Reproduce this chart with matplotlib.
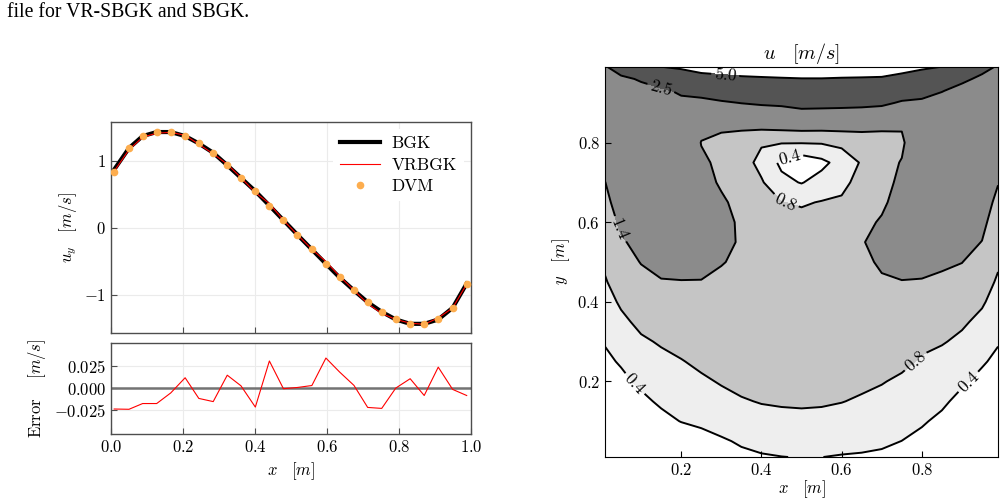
import matplotlib
matplotlib.use("Agg")
import matplotlib.pyplot as plt
import numpy as np

plt.rcParams['font.family'] = 'serif'
plt.rcParams['font.serif'] = ['cmr10']
plt.rcParams['mathtext.fontset'] = 'cm'
plt.rcParams['axes.formatter.use_mathtext'] = True
plt.rcParams['font.size'] = 12

# --- left: u_y along the line, and the error of VRBGK ---
x_line = [0.009, 0.050, 0.088, 0.127, 0.166, 0.206, 0.244, 0.284, 0.323, 0.361, 0.401, 0.440, 0.479,
          0.518, 0.558, 0.597, 0.635, 0.675, 0.713, 0.752, 0.791, 0.831, 0.870, 0.909, 0.949, 0.988]
u_bgk = [0.87, 1.19, 1.37, 1.43, 1.43, 1.37, 1.26, 1.12, 0.935, 0.746, 0.547, 0.333, 0.114,
         -0.104, -0.323, -0.537, -0.741, -0.935, -1.11, -1.254, -1.368, -1.433, -1.433, -1.368, -1.194, -0.831]
u_vrbgk = [0.846, 1.166, 1.353, 1.413, 1.425, 1.382, 1.248, 1.105, 0.950, 0.749, 0.526, 0.364, 0.113,
           -0.103, -0.320, -0.503, -0.723, -0.932, -1.132, -1.277, -1.368, -1.422, -1.441, -1.344, -1.196, -0.839]
u_dvm = [0.83, 1.19, 1.37, 1.43, 1.43, 1.37, 1.26, 1.12, 0.935, 0.746, 0.547, 0.333, 0.114,
         -0.104, -0.323, -0.537, -0.741, -0.935, -1.11, -1.254, -1.368, -1.433, -1.433, -1.368, -1.194, -0.831]
err = [-0.0237, -0.024, -0.0175, -0.0175, -0.0055, 0.0117, -0.0117, -0.0153, 0.0146, 0.0026, -0.0215, 0.0307, -0.0007,
       0.0007, 0.0029, 0.034, 0.0182, 0.003, -0.0219, -0.023, 0.0, 0.0106, -0.0084, 0.0237, -0.0015, -0.0084]

# --- right: velocity magnitude in the cavity ---
gx = [0.01, 0.05, 0.10, 0.15, 0.20, 0.25, 0.30, 0.35, 0.40, 0.45, 0.50,
      0.55, 0.60, 0.65, 0.70, 0.75, 0.80, 0.85, 0.90, 0.95, 0.99]
gy = [0.01, 0.05, 0.10, 0.15, 0.20, 0.25, 0.30, 0.35, 0.40, 0.45, 0.50,
      0.55, 0.60, 0.65, 0.70, 0.75, 0.80, 0.85, 0.90, 0.93, 0.96, 0.99]
speed = [
    [0.02, 0.02, 0.03, 0.04, 0.06, 0.12, 0.22, 0.33, 0.37, 0.395, 0.41, 0.402, 0.38, 0.37, 0.35, 0.30, 0.22, 0.15, 0.08, 0.03, 0.02],
    [0.07, 0.08, 0.11, 0.15, 0.20, 0.27, 0.36, 0.44, 0.50, 0.53, 0.54, 0.53, 0.51, 0.48, 0.45, 0.398, 0.33, 0.25, 0.15, 0.09, 0.07],
    [0.14, 0.17, 0.22, 0.31, 0.41, 0.47, 0.54, 0.61, 0.67, 0.70, 0.71, 0.70, 0.67, 0.63, 0.58, 0.51, 0.43, 0.34, 0.23, 0.16, 0.14],
    [0.21, 0.25, 0.33, 0.45, 0.53, 0.61, 0.69, 0.77, 0.82, 0.84, 0.85, 0.84, 0.81, 0.76, 0.70, 0.63, 0.53, 0.45, 0.32, 0.24, 0.21],
    [0.28, 0.33, 0.46, 0.58, 0.65, 0.74, 0.83, 0.90, 0.93, 0.95, 0.96, 0.95, 0.93, 0.87, 0.82, 0.74, 0.64, 0.55, 0.44, 0.33, 0.28],
    [0.34, 0.43, 0.60, 0.70, 0.78, 0.88, 0.95, 1.00, 1.02, 1.03, 1.04, 1.03, 1.01, 0.97, 0.95, 0.88, 0.76, 0.67, 0.57, 0.43, 0.34],
    [0.42, 0.57, 0.74, 0.84, 0.93, 1.01, 1.06, 1.10, 1.10, 1.10, 1.10, 1.09, 1.08, 1.05, 1.07, 1.02, 0.88, 0.83, 0.72, 0.55, 0.42],
    [0.53, 0.71, 0.90, 1.02, 1.09, 1.14, 1.16, 1.17, 1.16, 1.15, 1.14, 1.13, 1.13, 1.12, 1.18, 1.16, 1.05, 0.98, 0.86, 0.70, 0.52],
    [0.64, 0.86, 1.07, 1.20, 1.25, 1.27, 1.25, 1.23, 1.20, 1.18, 1.16, 1.15, 1.16, 1.18, 1.28, 1.30, 1.20, 1.15, 1.04, 0.85, 0.63],
    [0.76, 1.03, 1.25, 1.38, 1.39, 1.39, 1.32, 1.28, 1.22, 1.18, 1.15, 1.14, 1.17, 1.25, 1.36, 1.39, 1.38, 1.32, 1.21, 1.00, 0.74],
    [0.88, 1.19, 1.42, 1.50, 1.50, 1.48, 1.42, 1.33, 1.22, 1.15, 1.11, 1.11, 1.15, 1.32, 1.45, 1.50, 1.50, 1.47, 1.41, 1.17, 0.86],
    [1.01, 1.35, 1.53, 1.62, 1.60, 1.55, 1.50, 1.36, 1.20, 1.08, 1.03, 1.04, 1.10, 1.38, 1.50, 1.58, 1.60, 1.57, 1.55, 1.39, 1.00],
    [1.14, 1.49, 1.65, 1.73, 1.70, 1.58, 1.52, 1.34, 1.12, 0.97, 0.92, 0.94, 1.00, 1.30, 1.44, 1.60, 1.70, 1.67, 1.66, 1.52, 1.14],
    [1.27, 1.63, 1.77, 1.84, 1.80, 1.58, 1.46, 1.28, 1.00, 0.81, 0.76, 0.82, 0.88, 1.15, 1.33, 1.57, 1.78, 1.77, 1.76, 1.63, 1.28],
    [1.39, 1.76, 1.89, 1.96, 1.90, 1.55, 1.35, 1.18, 0.84, 0.50, 0.38, 0.55, 0.65, 1.00, 1.25, 1.50, 1.85, 1.86, 1.85, 1.74, 1.42],
    [1.59, 1.90, 2.01, 2.07, 2.00, 1.50, 1.28, 0.98, 0.68, 0.32, 0.15, 0.30, 0.55, 0.84, 1.20, 1.43, 1.92, 1.95, 1.94, 1.85, 1.60],
    [1.78, 2.03, 2.13, 2.18, 2.10, 1.38, 1.25, 1.10, 0.84, 0.82, 0.82, 0.83, 0.90, 1.00, 1.20, 1.30, 2.00, 2.05, 2.03, 1.95, 1.78],
    [1.97, 2.17, 2.25, 2.20, 2.20, 1.60, 1.55, 1.60, 1.70, 1.75, 1.80, 1.78, 1.78, 1.75, 1.55, 1.48, 2.10, 2.15, 2.12, 2.05, 1.96],
    [2.16, 2.30, 2.37, 2.30, 2.35, 2.20, 2.40, 2.52, 2.60, 2.65, 2.80, 2.78, 2.75, 2.72, 2.68, 2.40, 2.35, 2.30, 2.22, 2.17, 2.13],
    [2.27, 2.38, 2.44, 2.38, 2.60, 2.90, 3.00, 3.20, 3.30, 3.40, 3.50, 3.50, 3.45, 3.40, 3.35, 3.00, 2.80, 2.52, 2.34, 2.27, 2.24],
    [2.38, 2.46, 2.52, 2.90, 3.60, 4.20, 4.40, 4.60, 4.70, 4.80, 4.90, 4.90, 4.80, 4.75, 4.70, 4.30, 3.90, 3.40, 2.60, 2.40, 2.35],
    [2.48, 2.60, 4.00, 4.95, 5.30, 5.80, 6.00, 6.30, 6.50, 6.70, 6.80, 6.80, 6.70, 6.60, 6.40, 5.80, 5.30, 4.95, 4.00, 2.65, 2.45],
]
levels = [0.4, 0.8, 1.4, 2.5, 5.0]
fill_colors = ['#ffffff', '#eeeeee', '#c5c5c5', '#8b8b8b', '#545454']
label_spots = [(0.31, 0.972), (0.15, 0.94), (0.47, 0.762), (0.46, 0.655),
               (0.04, 0.58), (0.085, 0.195), (0.78, 0.255), (0.915, 0.2)]

fig = plt.figure(figsize=(10.06, 5.01), dpi=100)
fig.text(0.007, 0.975, 'file for VR-SBGK and SBGK.', family='Liberation Serif', fontsize=14.2, va='center')

spine_col = '0.3'

ax1 = fig.add_axes([0.1103, 0.3353, 0.3579, 0.4212])
ax1.plot(x_line, u_bgk, color='black', lw=3, label='BGK', zorder=2)
ax1.plot(x_line, u_vrbgk, color='red', lw=0.8, label='VRBGK', zorder=3)
ax1.plot(x_line, u_dvm, ls='none', marker='o', ms=4.5, color='#fdad4e', label='DVM', zorder=4)
ax1.set_xlim(0, 1)
ax1.set_ylim(-1.57, 1.58)
ax1.set_yticks([-1, 0, 1])
ax1.set_xticks([0, 0.2, 0.4, 0.6, 0.8, 1.0])
ax1.tick_params(labelbottom=False)
ax1.set_ylabel(r'$u_y \quad [m/s]$')
leg = ax1.legend(loc='upper right', frameon=True, fancybox=False, edgecolor='none', framealpha=1,
                 handlelength=2.3, handletextpad=0.7, labelspacing=0.35, fontsize=12.5,
                 borderaxespad=0.4)

ax2 = fig.add_axes([0.1103, 0.1337, 0.3579, 0.1816])
ax2.axhline(0, color='0.45', lw=1.8, zorder=1)
ax2.plot(x_line, err, color='red', lw=0.8, zorder=3)
ax2.set_xlim(0, 1)
ax2.set_ylim(-0.052, 0.051)
ax2.set_yticks([-0.025, 0.0, 0.025])
ax2.set_xticks([0, 0.2, 0.4, 0.6, 0.8, 1.0])
ax2.set_xlabel(r'$x \quad [m]$')
ax2.set_ylabel(r'Error $\quad [m/s]$')

for ax in (ax1, ax2):
    ax.grid(True, color='#ebebeb', lw=0.8, zorder=0)
    ax.set_axisbelow(True)
    ax.tick_params(direction='in', length=4, color=spine_col)
    for s in ax.spines.values():
        s.set_color(spine_col)
        s.set_linewidth(1.0)

ax3 = fig.add_axes([0.6014, 0.0878, 0.3907, 0.7784])
cf = ax3.contourf(gx, gy, np.array(speed), levels=[0.0] + levels, colors=fill_colors)
cs = ax3.contour(gx, gy, np.array(speed), levels=levels, colors='black', linewidths=1.4)
ax3.set_xlim(0.01, 0.99)
ax3.set_ylim(0.01, 0.99)
ax3.set_xticks([0.2, 0.4, 0.6, 0.8])
ax3.set_yticks([0.2, 0.4, 0.6, 0.8])
ax3.tick_params(direction='in', length=4)
ax3.clabel(cs, levels, manual=label_spots, fmt='%.1f', inline=True, fontsize=12.5, inline_spacing=3)
ax3.set_title(r'$u \quad [m/s]$', fontsize=14.5, pad=6)
ax3.set_xlabel(r'$x \quad [m]$', labelpad=0)
ax3.set_ylabel(r'$y \quad [m]$')

fig.savefig('out.png', dpi=100)
